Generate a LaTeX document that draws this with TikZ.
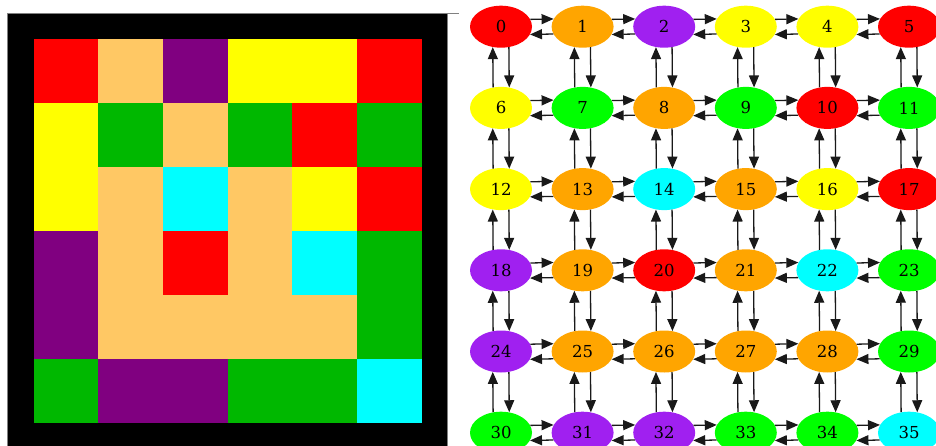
\documentclass[tikz,border=0pt]{standalone}
\usepackage{fontspec}
\newfontfamily\gvfont{DejaVu Serif}
\usepackage{xcolor}
% colours of the tiled board
\definecolor{cellR}{HTML}{FF0000}
\definecolor{cellO}{HTML}{FFC864}
\definecolor{cellP}{HTML}{800080}
\definecolor{cellY}{HTML}{FFFF00}
\definecolor{cellG}{HTML}{00B800}
\definecolor{cellC}{HTML}{00FFFF}
% colours of the graph nodes
\definecolor{vtxR}{HTML}{FF0000}
\definecolor{vtxO}{HTML}{FFA500}
\definecolor{vtxP}{HTML}{A020F0}
\definecolor{vtxY}{HTML}{FFFF00}
\definecolor{vtxG}{HTML}{00FF00}
\definecolor{vtxC}{HTML}{00FFFF}
\usepackage{tikz}
\usetikzlibrary{shapes.geometric, arrows.meta}

\begin{document}
\begin{tikzpicture}[x=1pt, y=-1pt,
  vertex/.style={ellipse, draw=none, inner sep=0pt,
    minimum width=62pt, minimum height=42pt,
    font=\gvfont\fontsize{16.5}{16.5}\selectfont},
  cell/.style={draw=none},
  link/.style={-{Triangle[length=12pt, width=10pt]}, line width=1.3pt, black!90}
]
\useasboundingbox (0,0) rectangle (936,446);

% board
\fill[black] (8,13.5) rectangle (447,452);
\draw[gray, line width=0.8pt] (7.5,452) -- (7.5,13.2) -- (459,13.2);
\draw[gray, line width=0.8pt] (447.3,13.2) -- (447.3,452);
\foreach \row [count=\r from 0] in {{R,O,P,Y,Y,R},{Y,G,O,G,R,G},{Y,O,C,O,Y,R},
    {P,O,R,O,C,G},{P,O,O,O,O,G},{G,P,P,G,G,C}} {
  \foreach \c [count=\i from 0] in \row {
    \fill[cell, cell\c] ({33.5+64.7*\i},{39+64.05*\r}) rectangle
      ({33.5+64.7*(\i+1)},{39+64.05*(\r+1)});
  }
}

% graph nodes
\foreach \c [count=\n from 0] in {R,O,P,Y,Y,R, Y,G,O,G,R,G, Y,O,C,O,Y,R,
    P,O,R,O,C,G, P,O,O,O,O,G, G,P,P,G,G,C} {
  \pgfmathtruncatemacro\k{\n}
  \pgfmathtruncatemacro\col{mod(\k,6)}
  \pgfmathtruncatemacro\row{div(\k,6)}
  \node[vertex, fill=vtx\c] (v\k) at ({501+81.6*\col},{26.7+81.2*\row}) {\k};
}

% horizontal pairs
\foreach \r in {0,...,5} {
  \foreach \i in {0,...,4} {
    \pgfmathtruncatemacro\a{6*\r+\i}
    \pgfmathtruncatemacro\b{\a+1}
    \draw[link] (v\a.14.5) -- (v\b.165.5);
    \draw[link] (v\b.194.5) -- (v\a.345.5);
  }
}

% vertical pairs
\foreach \r in {0,...,4} {
  \foreach \i in {0,...,5} {
    \pgfmathtruncatemacro\a{6*\r+\i}
    \pgfmathtruncatemacro\b{\a+6}
    \draw[link] (v\a.291.5) -- (v\b.68.5);
    \draw[link] (v\b.111.5) -- (v\a.248.5);
  }
}
\end{tikzpicture}
\end{document}
